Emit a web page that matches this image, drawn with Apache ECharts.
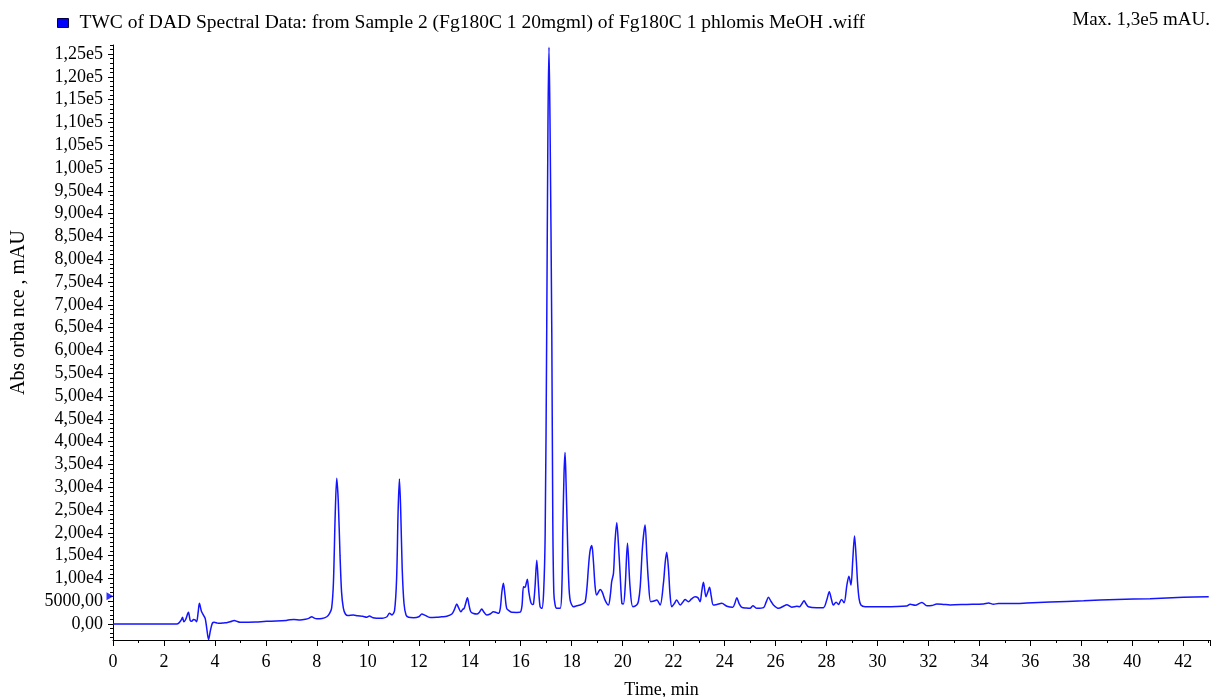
<!DOCTYPE html>
<html>
<head>
<meta charset="utf-8">
<script src="https://cdn.jsdelivr.net/npm/echarts@6/dist/echarts.min.js"></script>
<style>html,body{margin:0;padding:0;background:#fff}#c{width:1216px;height:697px}</style>
</head>
<body>
<div id="c"></div>
<script>
const seriesName = 'TWC of DAD Spectral Data: from Sample 2 (Fg180C 1 20mgml) of Fg180C 1 phlomis MeOH .wiff';
const maxText = 'Max. 1,3e5 mAU.';
const xTickLabels = [0,2,4,6,8,10,12,14,16,18,20,22,24,26,28,30,32,34,36,38,40,42];
const yTickLabels = [0,5000,10000,15000,20000,25000,30000,35000,40000,45000,50000,55000,60000,65000,70000,75000,80000,85000,90000,95000,100000,105000,110000,115000,120000,125000];
const markerLevel = 6100;

const timeMin = [0,2.5,2.6,2.68,2.73,2.78,2.85,2.96,3.03,3.09,3.16,3.22,3.28,3.34,3.39,3.47,3.55,3.62,3.68,3.75,3.82,3.9,3.97,4.1,4.2,4.35,4.46,4.6,4.76,4.88,4.98,5.3,5.6,6.03,6.4,6.8,6.95,7.1,7.34,7.55,7.7,7.8,7.9,8.0,8.2,8.39,8.5,8.58,8.65,8.72,8.78,8.84,8.91,8.97,9.04,9.12,9.22,9.43,9.6,9.8,9.96,10.06,10.2,10.48,10.61,10.75,10.85,10.95,11.05,11.13,11.19,11.24,11.29,11.35,11.42,11.5,11.6,11.8,12.0,12.12,12.25,12.44,12.7,12.9,13.1,13.3,13.4,13.49,13.56,13.65,13.72,13.78,13.84,13.91,13.97,14.04,14.15,14.28,14.38,14.47,14.56,14.67,14.8,14.93,15.05,15.13,15.2,15.26,15.32,15.38,15.45,15.55,15.65,15.85,15.98,16.05,16.11,16.17,16.22,16.26,16.32,16.39,16.45,16.5,16.56,16.63,16.7,16.76,16.83,16.9,16.96,17.02,17.07,17.11,17.15,17.22,17.26,17.30,17.35,17.41,17.55,17.62,17.65,17.70,17.74,17.78,17.83,17.88,17.94,18.07,18.2,18.33,18.45,18.53,18.6,18.66,18.72,18.79,18.85,18.92,18.98,19.05,19.12,19.2,19.31,19.44,19.52,19.57,19.64,19.7,19.77,19.84,19.9,19.97,20.03,20.1,20.19,20.29,20.4,20.55,20.62,20.69,20.78,20.88,20.95,21.01,21.1,21.2,21.34,21.47,21.6,21.67,21.73,21.8,21.86,21.93,22.03,22.12,22.26,22.35,22.45,22.58,22.7,22.84,22.95,23.04,23.1,23.17,23.27,23.34,23.41,23.48,23.56,23.7,23.89,24.09,24.32,24.4,24.48,24.57,24.68,24.85,25.0,25.11,25.27,25.53,25.63,25.72,25.82,25.92,26.12,26.31,26.44,26.64,26.84,26.94,27.03,27.12,27.2,27.29,27.62,27.88,28.01,28.11,28.19,28.27,28.38,28.47,28.59,28.69,28.8,28.88,28.96,29.03,29.1,29.17,29.22,29.28,29.35,29.52,30.24,31.15,31.28,31.48,31.74,31.94,32.13,32.33,32.59,32.85,33.51,34.16,34.36,34.55,34.75,35.47,35.86,36.78,38.09,39.4,40.7,42.0,43.0];

const absorbance = [0,0,300,900,1470,500,1000,2560,800,600,1000,900,500,2500,4540,2800,1970,1200,-1000,-3400,-1500,200,400,200,150,250,300,500,800,550,370,400,450,590,650,800,950,1000,900,1050,1300,1600,1300,1160,1200,1600,2350,3500,9000,24000,32000,27000,15000,7000,3500,2200,1850,1970,1800,1700,1500,1750,1400,1250,1300,1600,2350,2000,3000,10000,25000,31800,25000,12000,4500,2000,1500,1400,1600,2190,1900,1450,1500,1600,1700,2200,3200,4390,3600,2700,3200,3440,4500,5770,4200,2700,2300,2190,2600,3290,2600,1970,2200,2700,2500,2350,3500,7000,8920,6500,3440,2900,2560,2550,2600,4000,8190,8000,9000,9800,7000,4900,4300,4390,8000,14000,8000,3800,3440,7000,19900,63800,110000,126500,110000,63800,22000,6800,4200,3440,3440,9000,19900,33000,37650,31000,19900,10000,5260,3800,4000,4170,4500,4900,8000,12570,16000,17200,14000,8200,6360,7000,7600,7000,5260,4170,6500,9280,11100,18000,22200,17000,11100,4540,4400,8200,17700,8200,3800,4170,5000,8200,17000,21700,15000,9500,4900,5000,5260,4170,8900,13500,15720,12000,6500,3800,4500,5260,4170,4700,5400,4900,5500,6000,5800,4900,7000,9140,6000,7000,8050,6000,4170,4300,4540,3900,3660,4500,5770,4500,3660,3500,3440,4020,3440,3600,4800,5850,5000,4170,3440,3900,4240,3700,3900,3800,4400,5110,4400,3800,3580,3600,5260,7080,5500,4170,4800,4300,5400,4680,8550,10500,8550,14000,19300,14000,9000,5500,4170,3800,3800,3950,4320,4100,4750,4000,4050,4390,4300,4200,4300,4390,4600,4350,4500,4500,4600,4820,5110,5400,5550,5850,6000];

const FONT = 'Liberation Serif';

function fmtY(v) {
  if (v === 0) return '0,00';
  if (Math.abs(v) < 10000) return v.toFixed(2).replace('.', ',');
  const e = Math.floor(Math.log10(Math.abs(v)));
  const m = v / Math.pow(10, e);
  return m.toFixed(2).replace('.', ',') + 'e' + e;
}

const yMin = -3500, yMax = 127000;
const yMinor = [];
for (let v = -3000; v <= yMax; v += 1000) if (v % 5000 !== 0) yMinor.push(v);

const data = timeMin.map((t, i) => [t, absorbance[i]]);

const chart = echarts.init(document.getElementById('c'), null, {renderer: 'canvas'});
chart.setOption({
  animation: false,
  backgroundColor: '#fff',
  textStyle: {fontFamily: FONT, color: '#000'},
  title: {
    text: maxText, right: 1, top: 6,
    textStyle: {fontFamily: FONT, fontSize: 19, fontWeight: 'normal', color: '#000'}
  },
  legend: {
    data: [seriesName], left: 52, top: 8, icon: 'rect', itemWidth: 11, itemHeight: 9, itemGap: 12,
    textStyle: {fontFamily: FONT, fontSize: 19.5, color: '#000', padding: [0, 0, 0, 6]},
    itemStyle: {borderColor: '#000044', borderWidth: 1}
  },
  grid: {left: 113, right: 6, top: 45, bottom: 57, containLabel: false, outerBoundsMode: 'none'},
  xAxis: [{
    type: 'value', min: 0, max: 43.05, interval: 2,
    name: 'Time, min', nameLocation: 'middle', nameGap: 41,
    nameTextStyle: {fontFamily: FONT, fontSize: 18, color: '#000'},
    axisLine: {show: true, onZero: false, lineStyle: {color: '#000', width: 1}},
    axisTick: {show: true, length: 6, lineStyle: {color: '#000'}},
    minorTick: {show: true, splitNumber: 2, length: 3, lineStyle: {color: '#000'}},
    axisLabel: {fontFamily: FONT, fontSize: 18, color: '#000', margin: 13,
      formatter: v => xTickLabels.includes(v) ? String(v) : ''},
    splitLine: {show: false}
  }],
  yAxis: [{
    type: 'value', min: yMin, max: yMax,
    name: 'Abs orba nce , mAU', nameLocation: 'middle', nameGap: 84,
    nameTextStyle: {fontFamily: FONT, fontSize: 20, color: '#000', padding: [0, 0, 0, 60]},
    axisLine: {show: true, onZero: false, lineStyle: {color: '#000', width: 1}},
    axisTick: {show: true, length: 5, customValues: yTickLabels, lineStyle: {color: '#000'}},
    axisLabel: {fontFamily: FONT, fontSize: 18, color: '#000', margin: 10, customValues: yTickLabels, formatter: fmtY},
    splitLine: {show: false}
  }, {
    type: 'value', min: yMin, max: yMax, position: 'left',
    axisLine: {show: false},
    axisTick: {show: true, length: 3, customValues: yMinor, lineStyle: {color: '#000'}},
    axisLabel: {show: false},
    splitLine: {show: false}
  }],
  series: [{
    name: seriesName, type: 'line', data: data, xAxisIndex: 0, yAxisIndex: 0,
    showSymbol: false, smooth: 0.3, clip: true,
    color: '#0000ff',
    lineStyle: {color: '#1414ff', width: 1.5}
  }, {
    name: 'marker', type: 'scatter', data: [[0, markerLevel]], xAxisIndex: 0, yAxisIndex: 0,
    symbol: 'triangle', symbolSize: [8, 7], symbolRotate: -90, symbolOffset: [-3, 0], clip: false,
    itemStyle: {color: '#0000ff'}, silent: true, z: 5
  }]
});
</script>
</body>
</html>
